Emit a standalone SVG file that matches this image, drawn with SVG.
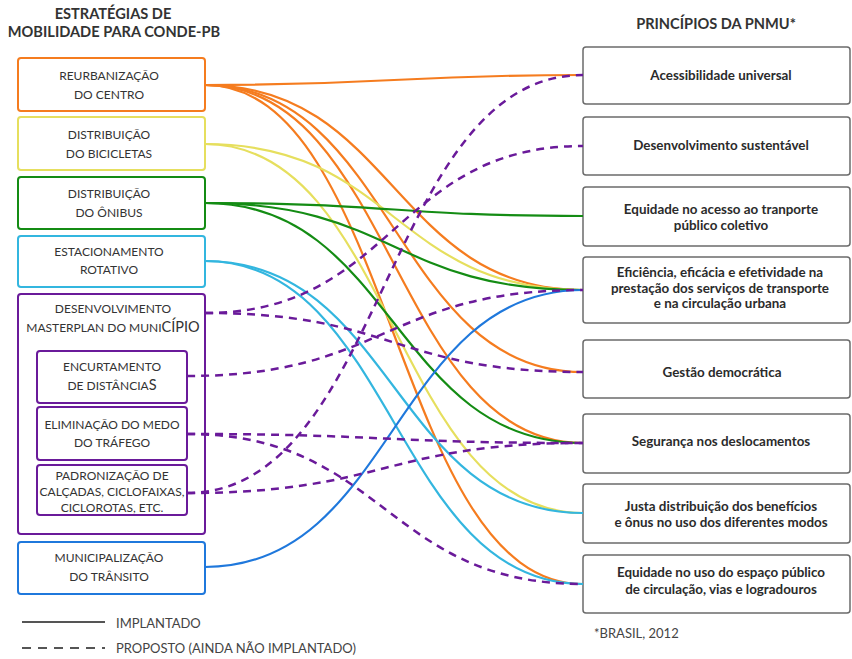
<svg xmlns="http://www.w3.org/2000/svg" width="852" height="659" viewBox="0 0 852 659">
<style>
.bg{fill:#fff}
.lb{fill:#fff;stroke-width:2}
.rb{fill:#fff;stroke:#6b6b6b;stroke-width:1.5}
.lt{font-family:Lato,"Open Sans",sans-serif;font-size:12px;fill:#333;text-anchor:middle}
.rt{font-family:Lato,"Open Sans",sans-serif;font-size:13.4px;font-weight:bold;fill:#2b2b2b;text-anchor:middle}
.tt{font-family:Lato,"Open Sans",sans-serif;font-size:14.6px;font-weight:bold;fill:#333;text-anchor:middle}
.nt{font-family:Lato,"Open Sans",sans-serif;font-size:13px;fill:#444}
.c{fill:none;stroke-width:2.2}
.d{fill:none;stroke:#6a1a9a;stroke-width:2.5;stroke-dasharray:8 6}
.or{stroke:#f57c1f}.ye{stroke:#e6df5e}.gr{stroke:#148c14}.cy{stroke:#33b6df}.bl{stroke:#1f78dc}.pu{stroke:#6a1a9a}
</style>
<rect class="bg" x="0" y="0" width="852" height="659"/>
<text class="tt" x="113" y="19">ESTRATÉGIAS DE</text>
<text class="tt" x="114" y="37">MOBILIDADE PARA CONDE-PB</text>
<text class="tt" x="716" y="29" font-size="15">PRINCÍPIOS DA PNMU*</text>

<g id="s-reurb"><rect class="lb or" x="18" y="58" width="187" height="53" rx="3"/><text class="lt" x="109" y="80">REURBANIZAÇÃO</text><text class="lt" x="109" y="99">DO CENTRO</text></g>
<g id="s-bici"><rect class="lb ye" x="18" y="117" width="187" height="53" rx="3"/><text class="lt" x="109" y="139">DISTRIBUIÇÃO</text><text class="lt" x="109" y="158">DO BICICLETAS</text></g>
<g id="s-onibus"><rect class="lb gr" x="18" y="177" width="187" height="52" rx="3"/><text class="lt" x="109" y="198">DISTRIBUIÇÃO</text><text class="lt" x="109" y="217">DO ÔNIBUS</text></g>
<g id="s-estac"><rect class="lb cy" x="18" y="236" width="187" height="51" rx="3"/><text class="lt" x="109" y="256">ESTACIONAMENTO</text><text class="lt" x="109" y="274">ROTATIVO</text></g>
<g id="s-desenv"><rect class="lb pu" x="18" y="294" width="187" height="240" rx="3"/><text class="lt" x="113" y="313">DESENVOLVIMENTO</text><text class="lt" x="113" y="332">MASTERPLAN DO MUNI<tspan font-size="14.5">CÍPIO</tspan></text></g>
<g id="s-encurt"><rect class="lb pu" x="37" y="351" width="150" height="52" rx="3"/><text class="lt" x="112" y="371">ENCURTAMENTO</text><text class="lt" x="112" y="390">DE DISTÂNCIA<tspan font-size="14.5">S</tspan></text></g>
<g id="s-elim"><rect class="lb pu" x="37" y="407" width="150" height="53" rx="3"/><text class="lt" x="112" y="429">ELIMINAÇÃO DO MEDO</text><text class="lt" x="112" y="447">DO TRÁFEGO</text></g>
<g id="s-padron"><rect class="lb pu" x="37" y="465" width="150" height="50" rx="3"/><text class="lt" x="112" y="480">PADRONIZAÇÃO DE</text><text class="lt" x="112" y="496">CALÇADAS, CICLOFAIXAS,</text><text class="lt" x="112" y="512">CICLOROTAS, ETC.</text></g>
<g id="s-munic"><rect class="lb bl" x="18" y="542" width="187" height="52" rx="3"/><text class="lt" x="109" y="562">MUNICIPALIZAÇÃO</text><text class="lt" x="109" y="581">DO TRÂNSITO</text></g>

<g id="p-acess"><rect class="rb" x="583" y="47" width="267" height="57" rx="3"/><text class="rt" x="721" y="80">Acessibilidade universal</text></g>
<g id="p-desenv"><rect class="rb" x="583" y="117" width="267" height="58" rx="3"/><text class="rt" x="721" y="150">Desenvolvimento sustentável</text></g>
<g id="p-equid"><rect class="rb" x="583" y="187" width="267" height="59" rx="3"/><text class="rt" x="721" y="214">Equidade no acesso ao tranporte</text><text class="rt" x="721" y="230">público coletivo</text></g>
<g id="p-efic"><rect class="rb" x="583" y="257" width="267" height="66" rx="3"/><text class="rt" x="720" y="277">Eficiência, eficácia e efetividade na</text><text class="rt" x="720" y="293">prestação dos serviços de transporte</text><text class="rt" x="720" y="308">e na circulação urbana</text></g>
<g id="p-gestao"><rect class="rb" x="583" y="340" width="267" height="58" rx="3"/><text class="rt" x="722" y="377">Gestão democrática</text></g>
<g id="p-seg"><rect class="rb" x="583" y="414" width="267" height="59" rx="3"/><text class="rt" x="721" y="446">Segurança nos deslocamentos</text></g>
<g id="p-justa"><rect class="rb" x="583" y="484" width="267" height="59" rx="3"/><text class="rt" x="721" y="511">Justa distribuição dos benefícios</text><text class="rt" x="721" y="527">e ônus no uso dos diferentes modos</text></g>
<g id="p-eqesp"><rect class="rb" x="583" y="555" width="267" height="58" rx="3"/><text class="rt" x="721" y="577">Equidade no uso do espaço público</text><text class="rt" x="721" y="594">de circulação, vias e logradouros</text></g>

<g id="connectors">
<path class="c or" d="M205,85 C394,85 394,75 583,75"/>
<path class="c or" d="M205,85 C394,85 394,290 583,290"/>
<path class="c or" d="M205,85 C394,85 394,372 583,372"/>
<path class="c or" d="M205,85 C394,85 394,443 583,443"/>
<path class="c or" d="M205,85 C394,85 394,584 583,584"/>
<path class="c ye" d="M205,144 C394,144 394,290 583,290"/>
<path class="c ye" d="M205,144 C394,144 394,513 583,513"/>
<path class="c gr" d="M205,203 C394,203 394,216 583,216"/>
<path class="c gr" d="M205,203 C394,203 394,290 583,290"/>
<path class="c gr" d="M205,203 C394,203 394,443 583,443"/>
<path class="c cy" d="M205,261 C394,261 394,513 583,513"/>
<path class="c cy" d="M205,261 C394,261 394,584 583,584"/>
<path class="c bl" d="M205,567 C394,567 394,290 583,290"/>
<path class="d" d="M205,313 C394,313 394,146 583,146"/>
<path class="d" d="M205,313 C394,313 394,372 583,372"/>
<path class="d" d="M187,376 C385,376 385,290 583,290"/>
<path class="d" d="M187,434 C385,434 385,443 583,443"/>
<path class="d" d="M187,434 C385,434 385,584 583,584"/>
<path class="d" d="M187,493 C385,493 385,443 583,443"/>
<path class="d" d="M187,493 C385,493 385,75 583,75"/>
</g>

<g id="legend">
<line x1="22" y1="622" x2="105" y2="622" stroke="#555" stroke-width="2"/>
<text class="nt" x="116" y="628">IMPLANTADO</text>
<line x1="22" y1="648" x2="105" y2="648" stroke="#555" stroke-width="2" stroke-dasharray="9 7"/>
<text class="nt" x="116" y="653">PROPOSTO (AINDA NÃO IMPLANTADO)</text>
</g>
<text class="nt" x="594" y="638">*BRASIL, 2012</text>
</svg>
